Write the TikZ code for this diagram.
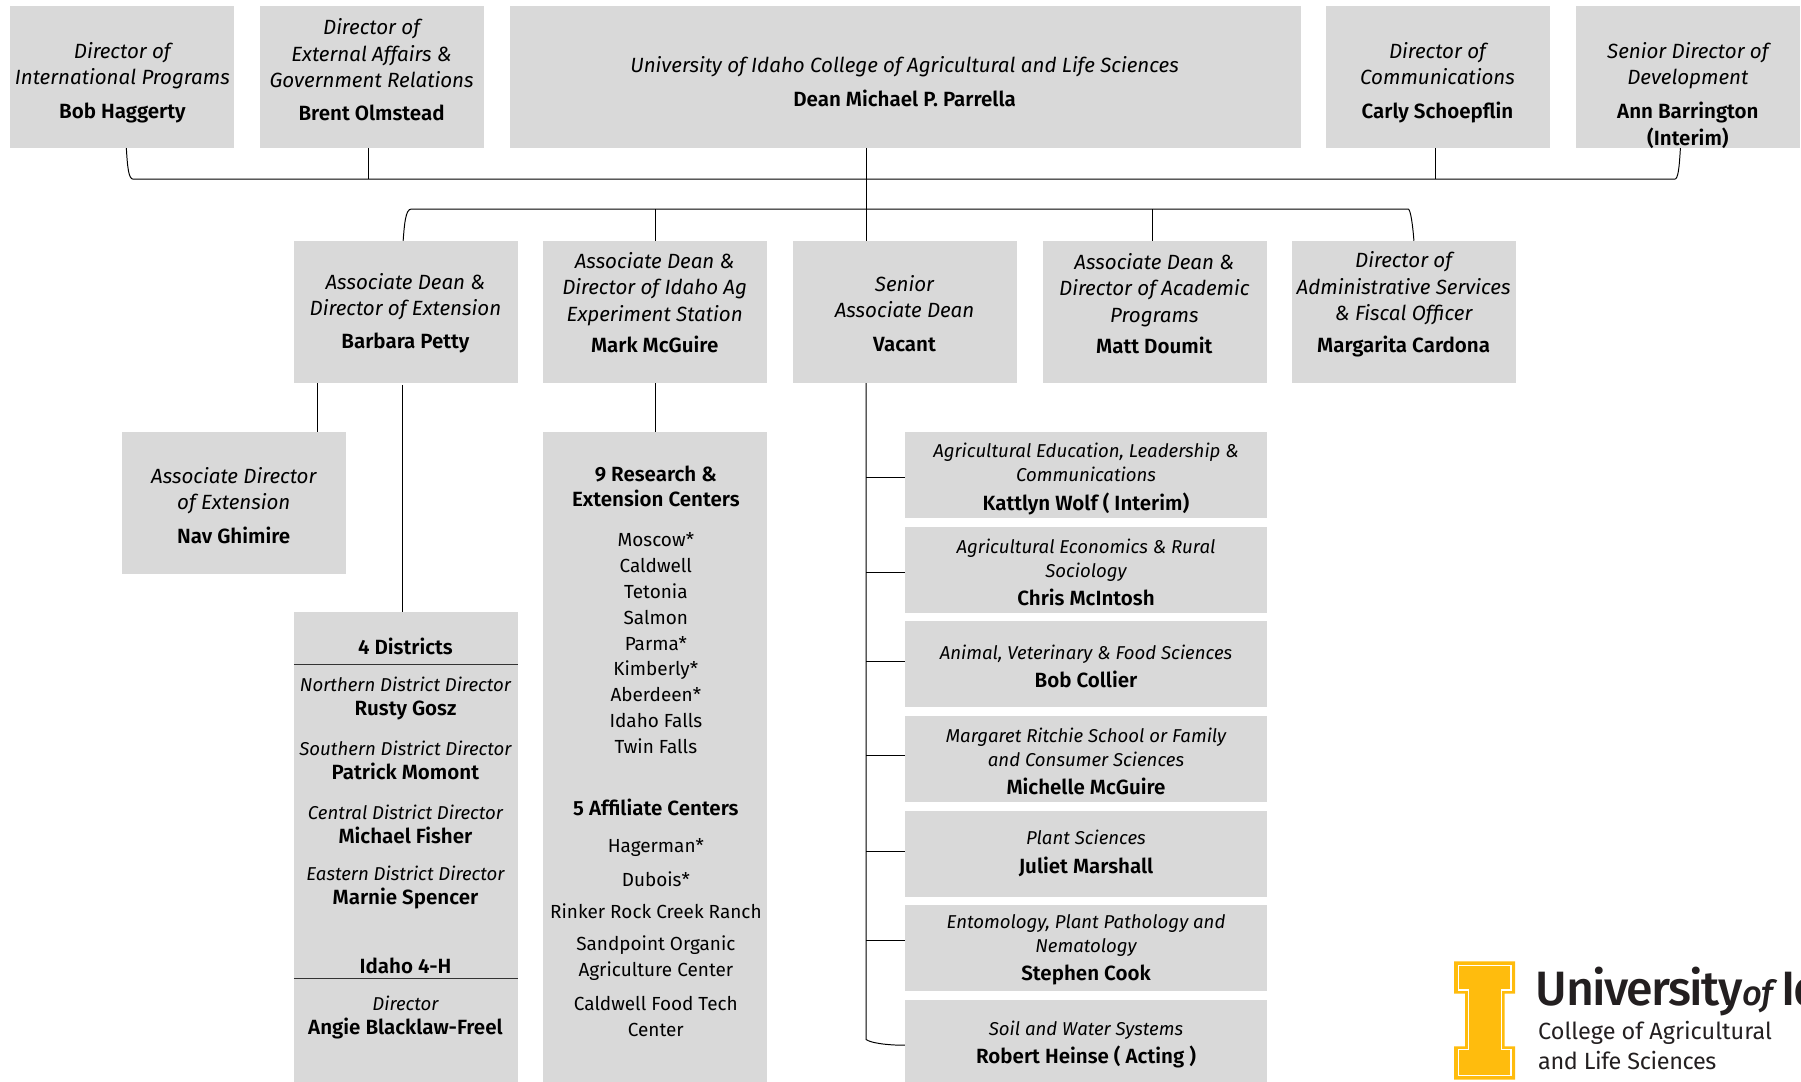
\documentclass[tikz,border=0pt]{standalone}
\usepackage{fontspec}
\setmainfont{Fira Sans}
\newfontfamily\namefont{Fira Sans SemiBold}
\newfontfamily\logofont[LetterSpace=-3.3]{Fira Sans Medium}
\newfontfamily\logotwo{Fira Sans}
\newfontfamily\logothree[LetterSpace=-1.5]{Fira Sans}
\definecolor{boxgray}{HTML}{D9D9D9}
\definecolor{gold}{HTML}{FFBC0D}
\definecolor{logoink}{HTML}{231F20}
\newcommand{\nm}[1]{{\namefont\upshape\fontsize{17.9}{23}\selectfont #1}}
\tikzset{
  box/.style={fill=boxgray,draw=none,inner sep=0pt,anchor=center},
  ttl/.style={align=center,inner sep=0pt,font=\fontsize{17.9}{23}\selectfont\itshape},
  sml/.style={align=center,inner sep=0pt,font=\fontsize{16.2}{21}\selectfont\itshape},
  plain/.style={align=center,inner sep=0pt,font=\fontsize{16.5}{22.5}\selectfont},
  wire/.style={draw=black,line width=0.85pt},
  rule/.style={draw=black!80,line width=0.85pt},
}
% name, x1, y1, x2, y2
\newcommand{\bx}[5]{\node[box,minimum width={#4pt-#2pt},minimum height={#5pt-#3pt}] (#1) at ({(#2+#4)/2},{(#3+#5)/2}) {};}
\begin{document}
\begin{tikzpicture}[x=1pt,y=-1pt]
\useasboundingbox (0,0) rectangle (1568,942);
\clip (0,0) rectangle (1568,942);
% top row
\bx{t1}{8.6}{5.5}{203.8}{128.7}
\bx{t2}{226}{5.5}{421}{128.7}
\bx{t3}{444}{5.5}{1133}{128.7}
\bx{t4}{1154.5}{5.5}{1349.8}{128.7}
\bx{t5}{1372.5}{5.5}{1567.5}{128.7}
% second row
\bx{r1}{256}{209.8}{451}{333.3}
\bx{r2}{473}{209.8}{668}{333.3}
\bx{r3}{690}{209.8}{885}{333.3}
\bx{r4}{908}{209.8}{1103}{333.3}
\bx{r5}{1125}{209.8}{1320}{333.3}
% lower boxes
\bx{ad}{106}{376}{301}{499.5}
\bx{dist}{256}{533}{451}{942}
\bx{cent}{473}{376}{668}{942}
\bx{d1}{788}{376}{1103}{451}
\bx{d2}{788}{459}{1103}{533.5}
\bx{d3}{788}{541}{1103}{615.5}
\bx{d4}{788}{623}{1103}{698}
\bx{d5}{788}{706}{1103}{781}
\bx{d6}{788}{788}{1103}{863}
\bx{d7}{788}{870.5}{1103}{942}
% text top row
\node[ttl] (t1t) at (106.5,72) {Director of\\International Programs\\[6.5pt]\nm{Bob Haggerty}};
\node[ttl] (t2t) at (323.5,61) {Director of\\External Affairs \&\\Government Relations\\[6pt]\nm{Brent Olmstead}};
\node[ttl] (t3t) at (787.5,71) {University of Idaho College of Agricultural and Life Sciences\\[6pt]\nm{Dean Michael P. Parrella}};
\node[ttl] (t4t) at (1251.5,72) {Director of\\Communications\\[6.5pt]\nm{Carly Schoepflin}};
\node[ttl] (t5t) at (1469.5,83) {Senior Director of\\Development\\[6.5pt]\nm{Ann Barrington}\\\nm{(Interim)}};
% text second row
\node[ttl] (r1t) at (353,272.7) {Associate Dean \&\\Director of Extension\\[6pt]\nm{Barbara Petty}};
\node[ttl] (r2t) at (570,263.5) {Associate Dean \&\\Director of Idaho Ag\\Experiment Station\\[4.5pt]\nm{Mark McGuire}};
\node[ttl] (r3t) at (787.5,273) {Senior\\Associate Dean\\[6pt]\nm{Vacant}};
\node[ttl] (r4t) at (1005,264.5) {Associate Dean \&\\Director of Academic\\Programs\\[4.5pt]\nm{Matt Doumit}};
\node[ttl] (r5t) at (1222,265) {Director of\\Administrative Services\\\& Fiscal Officer\\[4.5pt]\nm{Margarita Cardona}};
\node[ttl] (adt) at (203.5,440) {Associate Director\\of Extension\\[6pt]\nm{Nav Ghimire}};
% departments
\node[sml] (d1t) at (945.5,417) {Agricultural Education, Leadership \&\\Communications\\[3.5pt]\nm{Kattlyn Wolf ( Interim)}};
\node[sml] (d2t) at (945.5,498.5) {Agricultural Economics \& Rural\\Sociology\\[3.5pt]\nm{Chris McIntosh}};
\node[sml] (d3t) at (945.5,580) {Animal, Veterinary \& Food Sciences\\[3.5pt]\nm{Bob Collier}};
\node[sml] (d4t) at (945.5,663) {Margaret Ritchie School or Family\\and Consumer Sciences\\[3.5pt]\nm{Michelle McGuire}};
\node[sml] (d5t) at (945.5,743) {Plant Sciences\\[3.5pt]\nm{Juliet Marshall}};
\node[sml] (d6t) at (945.5,827) {Entomology, Plant Pathology and\\Nematology\\[3.5pt]\nm{Stephen Cook}};
\node[sml] (d7t) at (945.5,909) {Soil and Water Systems\\[3.5pt]\nm{Robert Heinse ( Acting )}};
% districts
\node[plain] (dh1) at (353,562.5) {\nm{4 Districts}};
\node[sml] (dn) at (353,608) {Northern District Director\\\nm{Rusty Gosz}};
\node[sml] (ds) at (353,662) {Southern District Director\\\nm{Patrick Momont}};
\node[sml] (dc) at (353,717.5) {Central District Director\\\nm{Michael Fisher}};
\node[sml] (de) at (353,773) {Eastern District Director\\\nm{Marnie Spencer}};
\node[plain] (dh2) at (353,841) {\nm{Idaho 4-H}};
\node[sml] (df) at (353,886) {Director\\\nm{Angie Blacklaw-Freel}};
\draw[rule] (dist.west |- 0,578.5) -- (dist.east |- 0,578.5);
\draw[rule] (dist.west |- 0,852) -- (dist.east |- 0,852);
% centers
\node[plain] (c1) at (571,423.5) {\nm{9 Research \&}\\\nm{Extension Centers}};
\node[plain] (c2) at (571,560) {Moscow*\\Caldwell\\Tetonia\\Salmon\\Parma*\\Kimberly*\\Aberdeen*\\Idaho Falls\\Twin Falls};
\node[plain] (c3) at (571,703) {\nm{5 Affiliate Centers}};
\node[plain] (c4) at (571,738) {Hagerman*};
\node[plain] (c5) at (571,765.5) {Dubois*};
\node[plain] (c6) at (571,793.5) {Rinker Rock Creek Ranch};
\node[plain] (c7) at (571,834) {Sandpoint Organic\\Agriculture Center};
\node[plain] (c8) at (571,885) {Caldwell Food Tech\\Center};
% connectors: upper bus
\coordinate (busAl) at (116,156);
\coordinate (busAr) at (1458,156);
\coordinate (busBl) at (358,182);
\coordinate (busBr) at (1226,182);
\draw[wire] (t1.south -| 110,0) .. controls (111,146) and (112,156) .. (busAl) -- (busAr) .. controls (1461,156) and (1462,146) .. (t5.south -| 1463,0);
\draw[wire] (t2.south -| 321,0) -- (busAl -| 321,0);
\draw[wire] (t4.south -| 1250,0) -- (busAl -| 1250,0);
\draw[wire] (t3.south -| 754,0) -- (r3.north -| 754,0);
\draw[wire] (r1.north -| 351,0) .. controls (352,196) and (353,182) .. (busBl) -- (busBr) .. controls (1228,182) and (1230,196) .. (r5.north -| 1231,0);
\draw[wire] (r2.north -| 571,0) -- (busBl -| 571,0);
\draw[wire] (r4.north -| 1003,0) -- (busBl -| 1003,0);
% connectors: below second row
\draw[wire] (r1.south -| 276,0) -- (ad.north -| 276,0);
\draw[wire] ([yshift=-1.5pt]r1.south -| 350,0) -- (dist.north -| 350,0);
\draw[wire] (r2.south -| 571,0) -- (cent.north -| 571,0);
\coordinate (spineEnd) at (754,905);
\draw[wire] (r3.south -| 754,0) -- (spineEnd) .. controls (758,908) and (772,910) .. (d7.west |- 0,910);
\foreach \d/\yy in {d1/416,d2/498,d3/576,d4/658,d5/741,d6/819}
  \draw[wire] (\d.west |- 0,\yy) -- (spineEnd |- 0,\yy);
% logo
\fill[gold] (1266,837) -- (1319,837) -- (1319,865) -- (1310,865) -- (1310,911) -- (1319,911) -- (1319,940) -- (1266,940) -- (1266,911) -- (1275.5,911) -- (1275.5,865) -- (1266,865) -- cycle;
\draw[white,line width=1.1pt] (1269.5,840.5) -- (1315.5,840.5) -- (1315.5,862) -- (1307,862) -- (1307,914) -- (1315.5,914) -- (1315.5,936.5) -- (1269.5,936.5) -- (1269.5,914) -- (1278.5,914) -- (1278.5,862) -- (1269.5,862) -- cycle;
\node[anchor=base west,inner sep=0pt,text=logoink,font=\logofont\fontsize{42}{42}\selectfont] (logo1) at (1337,875) {University{\itshape\fontsize{30}{30}\selectfont of}\,Idaho};
\node[anchor=base west,inner sep=0pt,text=logoink,font=\logotwo\fontsize{20.4}{25}\selectfont] (logo2) at (1339,905.4) {College of Agricultural};
\node[anchor=base west,inner sep=0pt,text=logoink,font=\logothree\fontsize{20.4}{25}\selectfont] (logo3) at (1339,931) {and Life Sciences};
\end{tikzpicture}
\end{document}
